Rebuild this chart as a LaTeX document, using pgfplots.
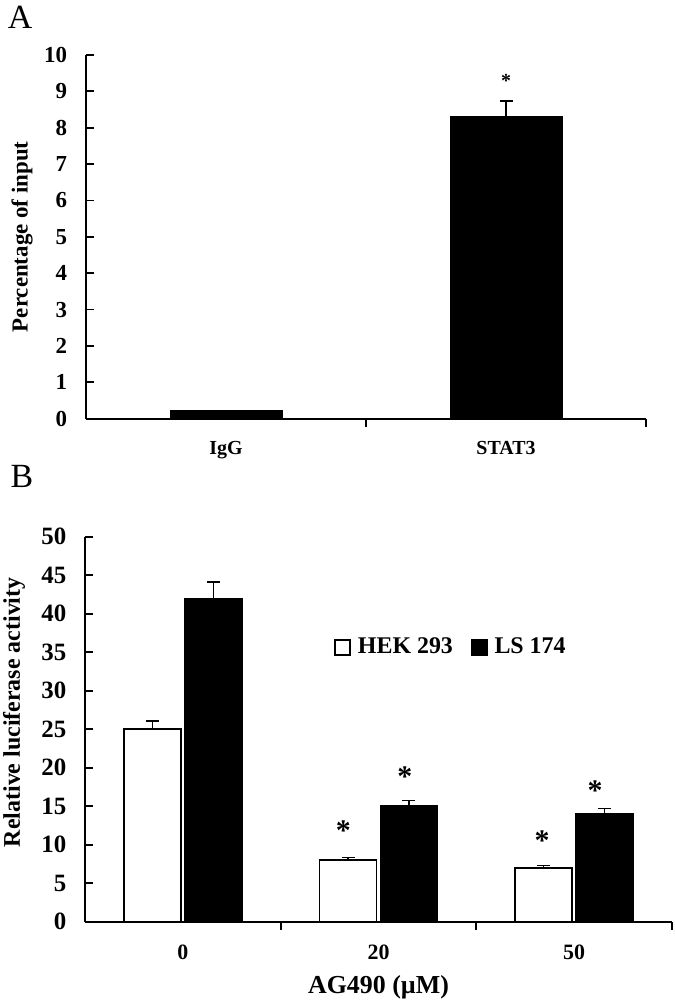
\documentclass[border=0pt]{standalone}
\usepackage{fontspec}
\setmainfont{Liberation Serif}
\usepackage{pgfplots}
\pgfplotsset{compat=1.18}

\pgfplotsset{
  panel/.style={
    scale only axis,
    axis x line*=bottom, axis y line*=left,
    axis line style={line width=1bp},
    tick align=inside,
    major tick length=4bp,
    tick style={black, line width=0.9bp},
    /pgf/number format/assume math mode=true,
    clip=false,
    ybar, bar width=#1,
    error bars/y dir=plus, error bars/y explicit,
    error bars/error bar style={line width=0.8bp, black},
    error bars/error mark options={black, line width=0.8bp, mark size=3.25bp, rotate=90},
  },
  boxlegend/.style={
    legend image code/.code={\draw[##1, line width=0.8bp] (0bp,-3.75bp) rectangle (7.5bp,3.75bp);}
  },
}

\begin{document}
\begin{tikzpicture}
\useasboundingbox (0,0) rectangle (337.5bp,-502.5bp);

% panel A
\node[font=\fontsize{17}{19}\selectfont] at (10bp,-8.5bp) {A};
\begin{axis}[
  panel=56bp,
  at={(43bp,-209.35bp)}, anchor=south west,
  width=280bp, height=181.85bp,
  xmin=-0.5, xmax=1.5, ymin=0, ymax=10,
  ytick={0,...,10},
  xtick={0.5,1.5}, xticklabels={},
  extra x ticks={0,1}, extra x tick labels={IgG,STAT3},
  extra x tick style={major tick length=0pt,
    tick label style={font=\bfseries\fontsize{10}{12}\selectfont, yshift=-8bp}},
  yticklabel style={font=\bfseries\fontsize{11.5}{13}\selectfont, xshift=-6bp},
  ylabel={\bfseries Percentage of input},
  every axis y label/.style={at={(axis description cs:-0.114,0.5)}, rotate=90, anchor=center,
    font=\fontsize{11.5}{13}\selectfont},
]
\addplot[fill=black, draw=black, line width=0.5bp] coordinates {
  (0,0.23) +- (0,0)
  (1,8.32) +- (0,0.41)
};
\node[font=\bfseries\fontsize{10}{12}\selectfont, yshift=-1.5bp] at (axis cs:1,9.37) {*};
\end{axis}

% panel B
\node[font=\fontsize{17}{19}\selectfont] at (11bp,-238bp) {B};
\begin{axis}[
  panel=28.5bp,
  at={(42.5bp,-460.85bp)}, anchor=south west,
  width=293.5bp, height=192.5bp,
  xmin=-0.5, xmax=2.5, ymin=0, ymax=50,
  ytick={0,5,...,50},
  xtick={0.5,1.5,2.5}, xticklabels={},
  extra x ticks={0,1,2}, extra x tick labels={0,20,50},
  extra x tick style={major tick length=0pt,
    tick label style={font=\bfseries\fontsize{11}{13}\selectfont, yshift=-8bp}},
  yticklabel style={font=\bfseries\fontsize{12.5}{14}\selectfont, xshift=-5.8bp},
  ylabel={\bfseries Relative luciferase activity},
  every axis y label/.style={at={(axis description cs:-0.121,0.544)}, rotate=90, anchor=center,
    font=\fontsize{12}{14}\selectfont},
  xlabel={\bfseries AG490 (µM)},
  every axis x label/.style={at={(axis description cs:0.5,0)}, anchor=center, yshift=-33bp,
    font=\fontsize{13}{15}\selectfont},
  legend style={at={(axis description cs:0.414,0.713)}, anchor=west, draw=none, fill=none,
    font=\bfseries\fontsize{12}{14}\selectfont, legend columns=2,
    /tikz/every odd column/.append style={column sep=1.5bp},
    /tikz/every even column/.append style={column sep=7bp}},
]
\addplot[fill=white, draw=black, line width=0.8bp, boxlegend] coordinates {
  (0,25) +- (0,1.1)
  (1,8) +- (0,0.35)
  (2,7) +- (0,0.3)
};
\addplot[fill=black, draw=black, line width=0.8bp, boxlegend] coordinates {
  (0,42) +- (0,2.1)
  (1,15) +- (0,0.75)
  (2,14) +- (0,0.7)
};
\legend{HEK 293, LS 174}
\node[font=\bfseries\fontsize{15}{17}\selectfont, yshift=-2bp] at (axis cs:0.82,12.3) {*};
\node[font=\bfseries\fontsize{15}{17}\selectfont, yshift=-2bp] at (axis cs:1.135,19.3) {*};
\node[font=\bfseries\fontsize{15}{17}\selectfont, yshift=-2bp] at (axis cs:1.836,11.0) {*};
\node[font=\bfseries\fontsize{15}{17}\selectfont, yshift=-2bp] at (axis cs:2.107,17.5) {*};
\end{axis}
\end{tikzpicture}
\end{document}
